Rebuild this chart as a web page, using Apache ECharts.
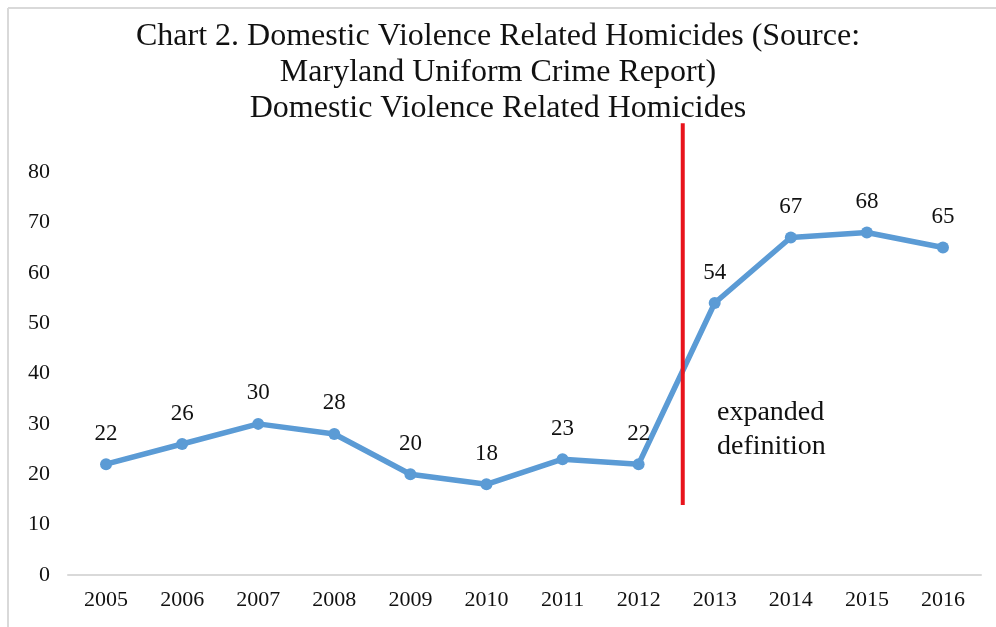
<!DOCTYPE html>
<html><head><meta charset="utf-8">
<script src="https://cdn.jsdelivr.net/npm/echarts@6/dist/echarts.min.js"></script>
<style>html,body{margin:0;padding:0;background:#fff}#c{width:996px;height:627px}</style>
</head><body><div id="c"></div>
<script>
const years = ['2005','2006','2007','2008','2009','2010','2011','2012','2013','2014','2015','2016'];
const homicides = [22,26,30,28,20,18,23,22,54,67,68,65];
const yTicks = {min:0, max:80, interval:10};
const dividerX = 7.58;          // position between 2012 and 2013 (category index)
const dividerY = [13.9, 89.7];  // vertical extent in value units
const note = 'expanded\ndefinition';

const font = '"Liberation Serif","Times New Roman",serif';
const chart = echarts.init(document.getElementById('c'));
chart.setOption({
  backgroundColor:'#fff',
  animation:false,
  title:{
    text:'Chart 2. Domestic Violence Related Homicides (Source:\nMaryland Uniform Crime Report)\nDomestic Violence Related Homicides',
    left:'center', top:14,
    textStyle:{fontFamily:font, fontSize:32, fontWeight:'normal', color:'#111', lineHeight:36}
  },
  grid:{left:68, right:15, top:172, bottom:52},
  xAxis:[{
    type:'category', data:years, boundaryGap:true,
    axisLine:{lineStyle:{color:'#d9d9d9', width:2}},
    axisTick:{show:false},
    axisLabel:{fontFamily:font, fontSize:22, color:'#111', margin:14}
  },{
    type:'value', min:-0.5, max:11.5, show:false
  }],
  yAxis:[{
    type:'value', min:yTicks.min, max:yTicks.max, interval:yTicks.interval,
    axisLine:{show:false}, axisTick:{show:false}, splitLine:{show:false},
    axisLabel:{fontFamily:font, fontSize:22, color:'#111', margin:18}
  },{
    type:'value', min:yTicks.min, max:yTicks.max, show:false
  }],
  series:[{
    type:'line', data:homicides,
    lineStyle:{color:'#5b9bd5', width:5.5},
    itemStyle:{color:'#5b9bd5'},
    symbol:'circle', symbolSize:12,
    label:{show:true, position:'top', distance:13, fontFamily:font, fontSize:23, color:'#111'}
  },{
    type:'line', xAxisIndex:1, yAxisIndex:1, clip:false,
    data:[[dividerX, dividerY[0]],[dividerX, dividerY[1]]],
    symbol:'none', lineStyle:{color:'#e8141c', width:4}, silent:true
  }],
  graphic:[
    {type:'line', shape:{x1:8,y1:8,x2:996,y2:8}, style:{stroke:'#d9d9d9', lineWidth:2}},
    {type:'line', shape:{x1:8,y1:8,x2:8,y2:627}, style:{stroke:'#d9d9d9', lineWidth:2}},
    {type:'text', left:717, top:396, style:{text:note, font:'28px ' + font, fill:'#111', lineHeight:34}}
  ]
});
</script></body></html>
